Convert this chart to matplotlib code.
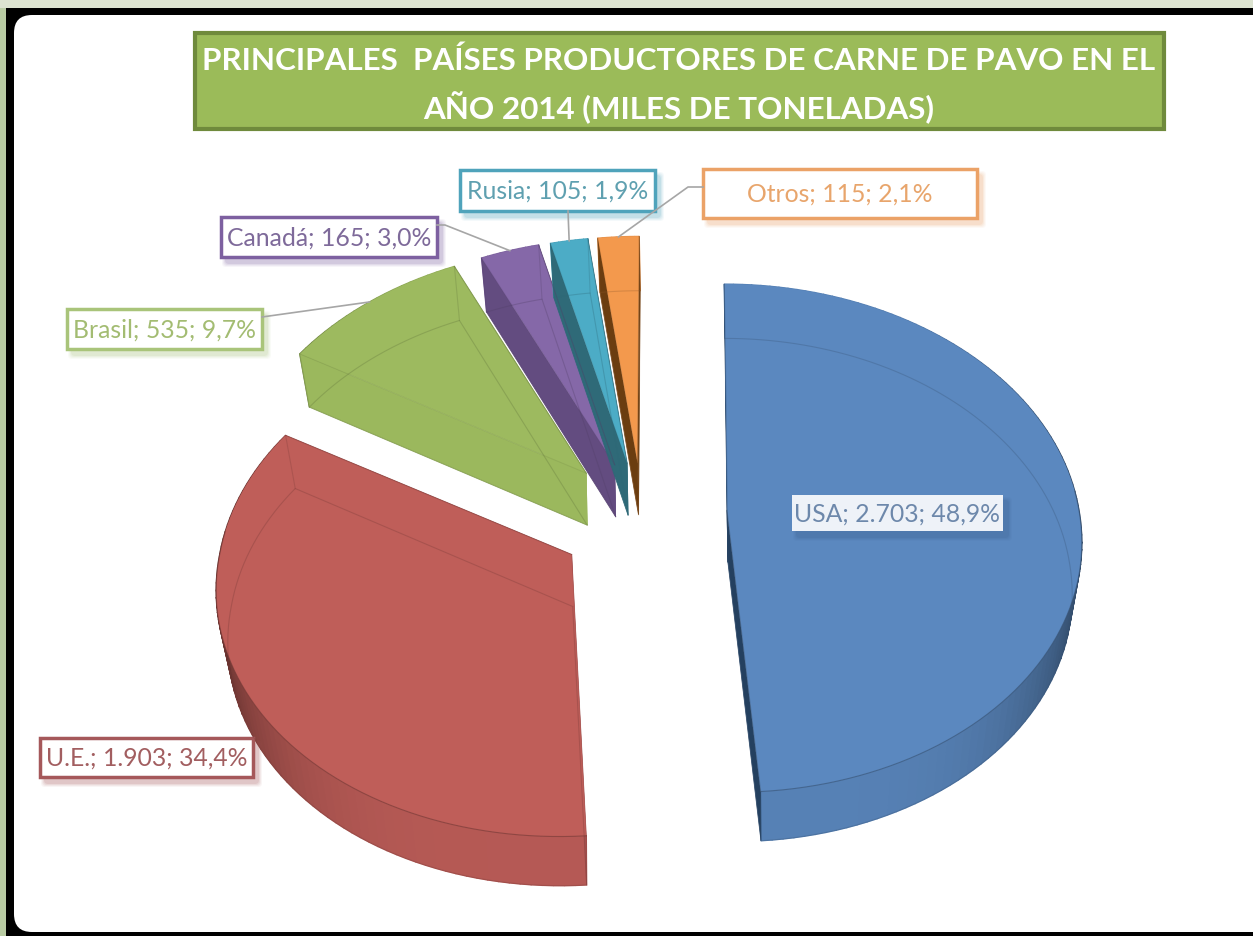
import numpy as np
import matplotlib
matplotlib.use("Agg")
import matplotlib.pyplot as plt
from matplotlib.patches import Polygon, Rectangle, FancyBboxPatch
from matplotlib.colors import to_rgb

plt.rcParams['font.family'] = ['Lato', 'DejaVu Sans']

# data, clockwise from the top
names = ["USA", "U.E.", "Brasil", "Canadá", "Rusia", "Otros"]
values = [2703, 1903, 535, 165, 105, 115]
explode = [0.25, 0.25, 0.25, 0.25, 0.25, 0.25]
title_lines = ["PRINCIPALES  PAÍSES PRODUCTORES DE CARNE DE PAVO EN EL",
               "AÑO 2014 (MILES DE TONELADAS)"]

# colours
face_colors = ["#5b88bf", "#bf5e59", "#9dba5f", "#8568a8", "#4cacc6", "#f3994d"]
wall_colors = ["#24405f", "#a85250", "#9bb85d", "#634c80", "#2f6a78", "#6b3d10"]
rim_colors = ["#5b88bf", "#bf5e59", "#9dba5f", "#8568a8", "#4cacc6", "#f3994d"]
text_colors = ["#6d88ab", "#a25e60", "#a3bc72", "#7e6a9a", "#5fa0b0", "#e8a56c"]
edge_colors = ["#ffffff", "#a5585a", "#a9c47a", "#7d60a0", "#4fa3bb", "#eba267"]

# label boxes x0, y0, x1, y1 in pixels
label_boxes = [(792, 495, 1003, 531), (40, 738, 253, 777), (67, 309, 262, 349),
               (221, 217, 437, 257), (460, 170, 655, 211), (703, 169, 977, 218)]
# where the leader leaves the box (None = no leader)
leader_start = [None, None, (262, 317), (437, 225), (568, 211), (703, 187)]
leader_knee = [None, None, None, (445, 225), None, (688, 187)]

# view of the pie, pixels
W, H = 1253, 936
CX, CY = 643, 512.5
EX, EY, EQ = 336, 264, 0.32    # reach of explode = 1
R, RV, P = 352, 251, 0.11
VX = 672                       # vanishing point
START = 0.0
DEPTH_X, DEPTH_Y = 1, 52
SCALE_X, SCALE_Y = 0.97, 0.99


def rim(ax0, ay0, th, scale_x=1.0, scale_y=1.0):
    d = 1 + P * np.cos(th)
    lean = 1 / d - 1
    lean = np.where(lean < 0, lean * 0.5, lean)    # weaker towards the back
    return (ax0 + scale_x * R * np.sin(th) / d + (ax0 - VX) * lean,
            ay0 - scale_y * RV * np.cos(th) / d)


fig = plt.figure(figsize=(W / 100, H / 100), dpi=100)
ax = fig.add_axes([0, 0, 1, 1])
ax.set_xlim(0, W)
ax.set_ylim(H, 0)
ax.axis("off")

# frame
ax.add_patch(Rectangle((0, 0), W, H, fc="#dce3d0", ec="none"))
ax.add_patch(Rectangle((0, 8), 7, H, fc="#b9cca3", ec="none"))
ax.add_patch(Rectangle((6, 8), W, H, fc="black", ec="none"))
ax.add_patch(FancyBboxPatch((32, 33), W + 40, 881, boxstyle="round,pad=18,rounding_size=18",
                            fc="white", ec="none"))

# title
ax.add_patch(Rectangle((194.5, 33), 969, 96, fc="#9bbb59", ec="#6f8a3c", lw=3))
ax.text(679, 61, title_lines[0], color="white", fontsize=22.6, fontweight="bold",
        ha="center", va="center")
ax.text(679, 108, title_lines[1], color="white", fontsize=22.6, fontweight="bold",
        ha="center", va="center")

# slices
total = sum(values)
angle = np.radians(START)
mid_angles = []
apexes = []
for i in range(len(values)):
    sweep = 2 * np.pi * values[i] / total
    th = np.linspace(angle, angle + sweep, max(int(values[i] / 25), 10))
    mid = angle + sweep / 2
    angle += sweep

    k = explode[i] * 4
    ax0 = CX + k * EX * 0.25 * np.sin(mid)
    ay0 = CY - k * EY * 0.25 * np.cos(mid) / (1 + EQ * np.cos(mid))
    mid_angles.append(mid)
    apexes.append((ax0, ay0))

    tx, ty = rim(ax0, ay0, th)
    bx, by = rim(ax0 + DEPTH_X, ay0 + DEPTH_Y, th, SCALE_X, SCALE_Y)

    # outer wall, darker where it turns away
    base = np.array(to_rgb(rim_colors[i]))
    for j in range(len(th) - 1):
        shade = 0.95 - 0.45 * abs(np.sin((th[j] + th[j + 1]) / 2)) ** 4
        c = tuple(base * shade)
        ax.add_patch(Polygon([(tx[j], ty[j]), (tx[j + 1], ty[j + 1]),
                              (bx[j + 1], by[j + 1]), (bx[j], by[j])],
                             fc=c, ec=c, lw=1.0))

    # radial walls
    for e in (0, -1):
        ax.add_patch(Polygon([(ax0, ay0), (tx[e], ty[e]), (bx[e], by[e]),
                              (ax0 + DEPTH_X, ay0 + DEPTH_Y)],
                             fc=wall_colors[i], ec=wall_colors[i], lw=0.5))

    # top face
    px = np.concatenate([[ax0], tx])
    py = np.concatenate([[ay0], ty])
    ax.add_patch(Polygon(np.column_stack([px, py]), fc=face_colors[i], ec="none"))

    # edges seen through the face
    dark = tuple(base * 0.6)
    ax.plot(np.concatenate([[ax0 + DEPTH_X], bx, [ax0 + DEPTH_X]]),
            np.concatenate([[ay0 + DEPTH_Y], by, [ay0 + DEPTH_Y]]),
            color=dark, lw=0.8, alpha=0.3)
    for e in (0, -1):
        ax.plot([tx[e], bx[e]], [ty[e], by[e]], color=dark, lw=0.8, alpha=0.25)
    ax.plot([ax0, tx[0]], [ay0, ty[0]], color=dark, lw=0.8, alpha=0.15)
    ax.plot([ax0, tx[-1]], [ay0, ty[-1]], color=dark, lw=0.8, alpha=0.4)
    front = np.cos(th) < 0.1
    ax.plot(tx[front], ty[front], color=dark, lw=0.8, alpha=0.6)

# leaders
for i in range(len(values)):
    if leader_start[i] is None:
        continue
    ex, ey = rim(apexes[i][0], apexes[i][1], mid_angles[i])
    pts = [leader_start[i]] + ([leader_knee[i]] if leader_knee[i] else []) + [(ex, ey)]
    ax.plot([p[0] for p in pts], [p[1] for p in pts], color="#a6a6a6", lw=1.2)

# labels
for i in range(len(values)):
    x0, y0, x1, y1 = label_boxes[i]
    w, h = x1 - x0, y1 - y0
    shadow = "#3b5f8c" if i == 0 else edge_colors[i]
    for grow, alpha in zip([8, 6, 4, 2], [0.06, 0.08, 0.1, 0.14]):
        ax.add_patch(FancyBboxPatch((x0 + 5 - grow / 2, y0 + 6 - grow / 2), w + grow, h + grow,
                                    boxstyle="round,pad=0,rounding_size=4",
                                    fc=shadow, ec="none", alpha=alpha))
    if i == 0:
        ax.add_patch(Rectangle((x0, y0), w, h, fc="#eef2f8", ec="none"))
    else:
        ax.add_patch(Rectangle((x0, y0), w, h, fc="white", ec=edge_colors[i], lw=2.5))
    pct = f"{100 * values[i] / total:.1f}".replace(".", ",")
    val = f"{values[i]:,}".replace(",", ".")
    ax.text((x0 + x1) / 2, (y0 + y1) / 2 + 1, f"{names[i]}; {val}; {pct}%",
            color=text_colors[i], fontsize=17.8, ha="center", va="center")

fig.savefig("out.png", dpi=100)
